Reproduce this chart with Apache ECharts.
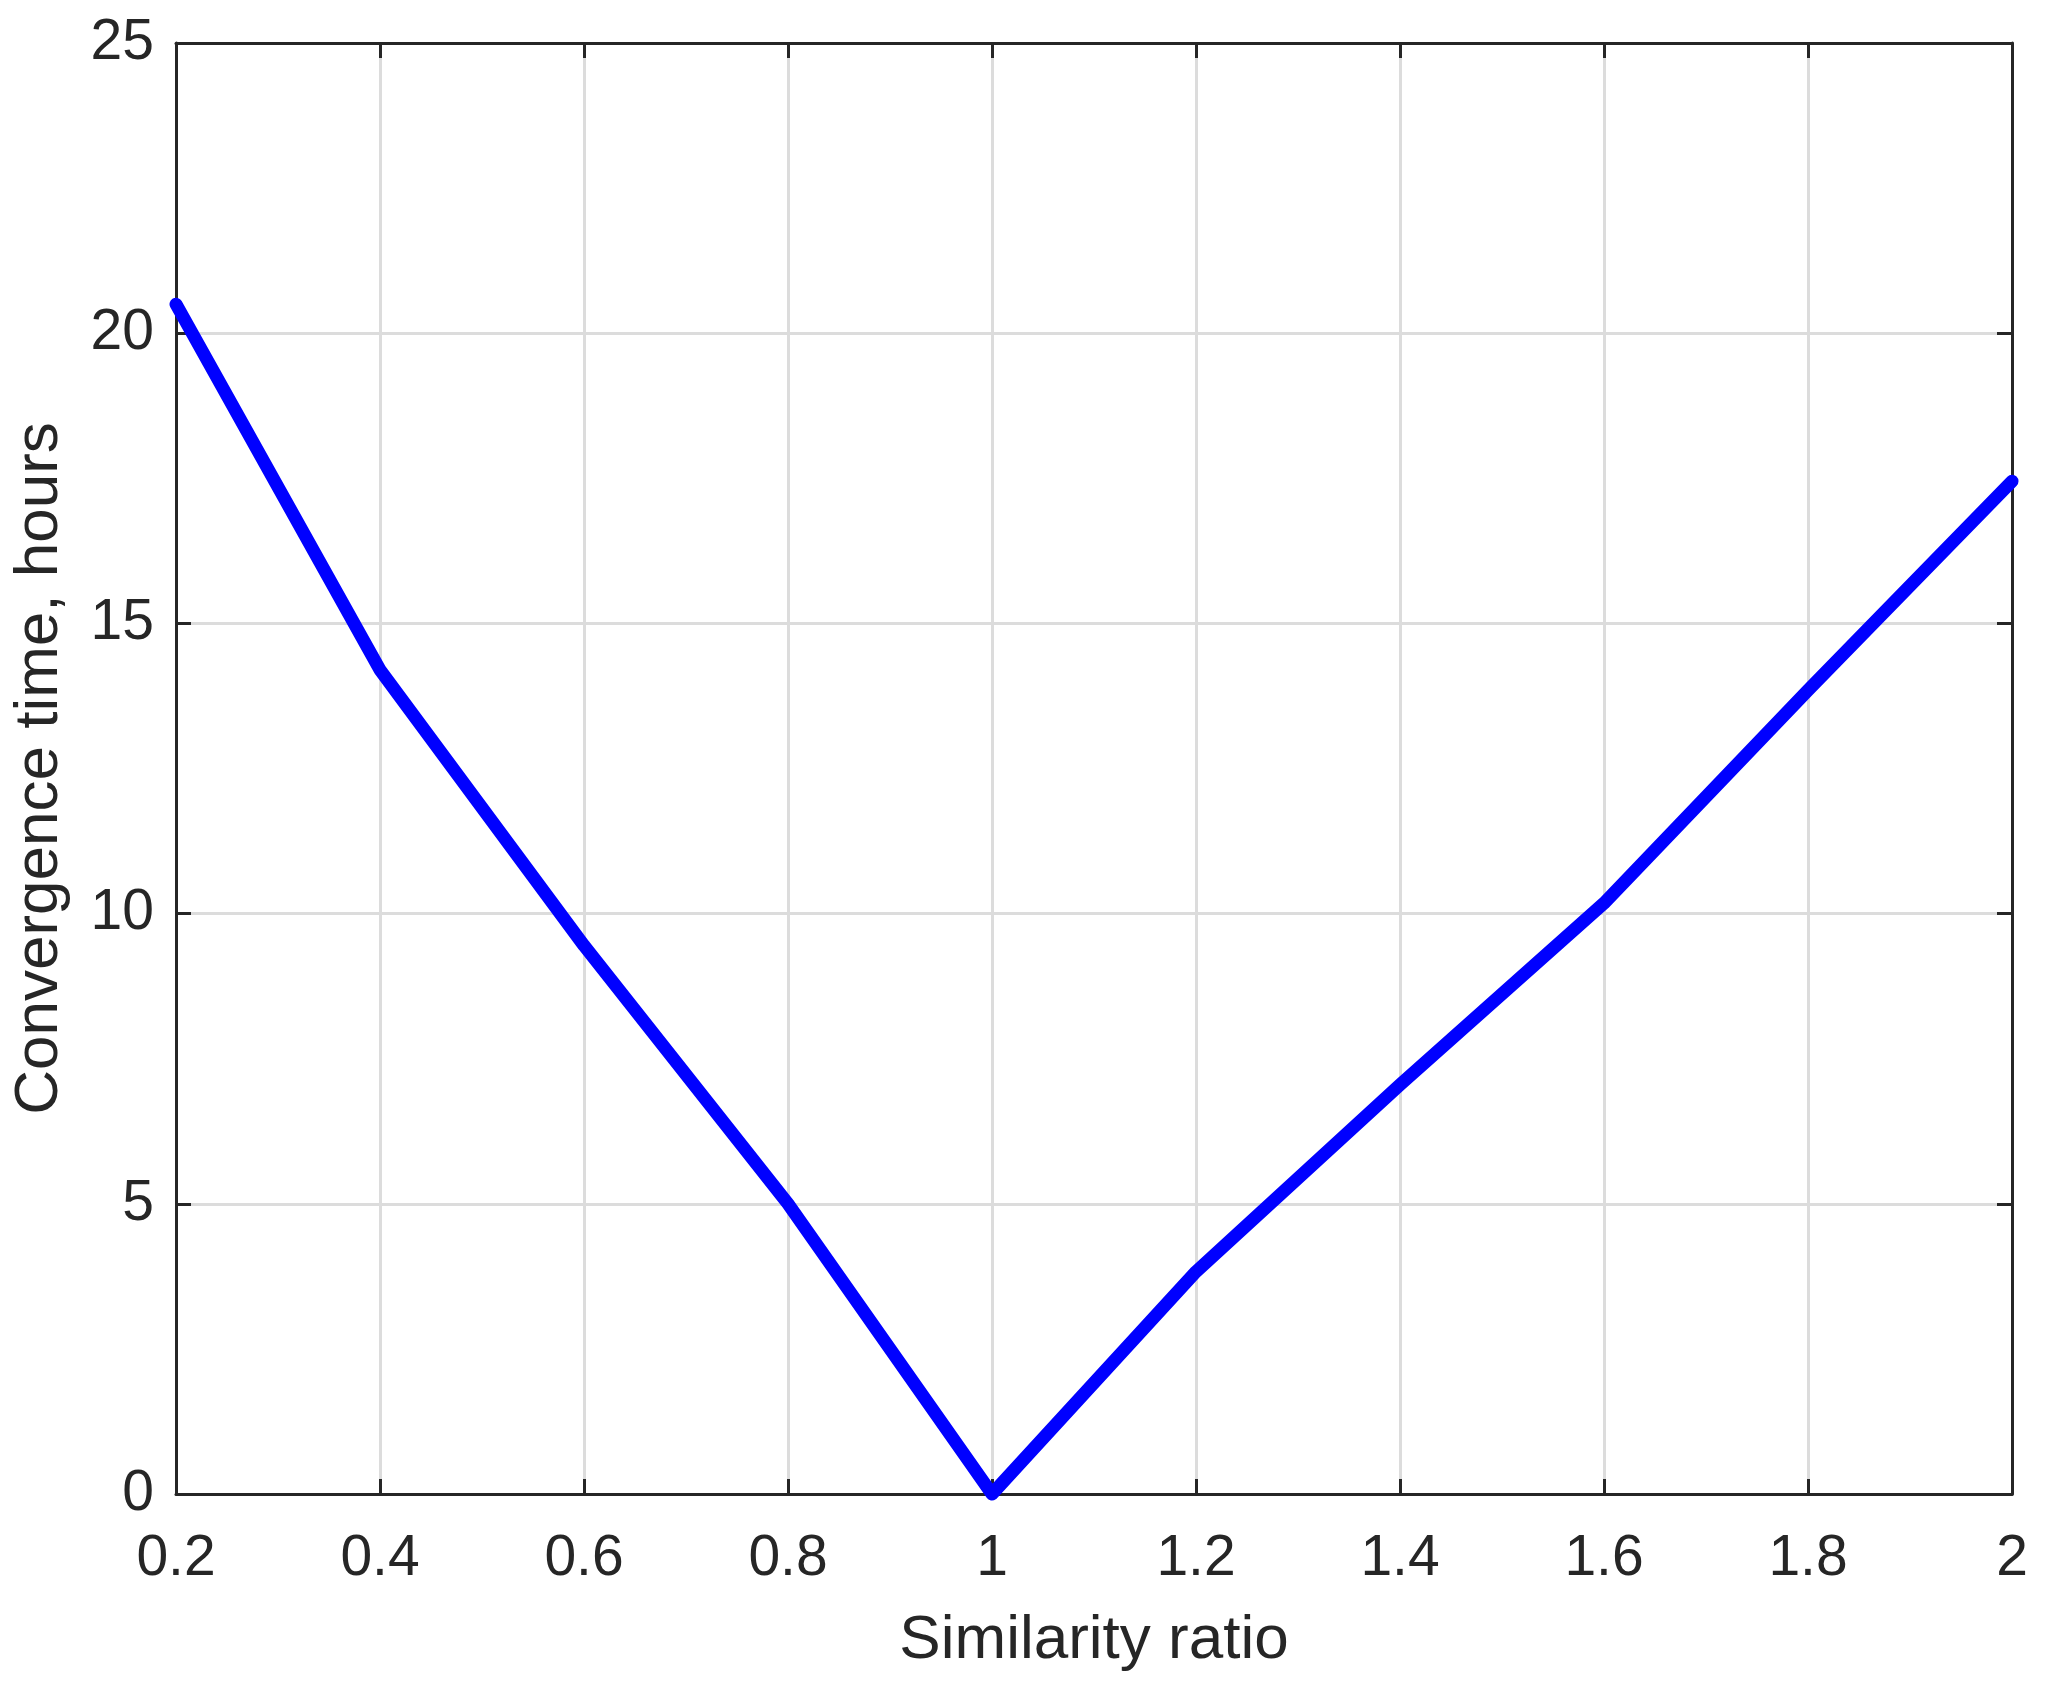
<!DOCTYPE html>
<html>
<head>
<meta charset="utf-8">
<script src="https://cdn.jsdelivr.net/npm/echarts@6/dist/echarts.min.js"></script>
<style>
html,body{margin:0;padding:0;background:#fff;}
#chart{width:2049px;height:1695px;}
</style>
</head>
<body>
<div id="chart"></div>
<script>
const similarityRatio = [0.2, 0.4, 0.6, 0.8, 1.0, 1.2, 1.4, 1.6, 1.8, 2.0];
const convergenceHours = [20.5, 14.2, 9.45, 5.0, 0, 3.83, 7.05, 10.18, 13.85, 17.45];
const xTitle = 'Similarity ratio';
const yTitle = 'Convergence time, hours';

const FONT = '"Liberation Sans", Arial, sans-serif';
const TXT = '#262626';
const AX = '#262626';
const GRID = '#dcdcdc';

const chart = echarts.init(document.getElementById('chart'), null, {renderer: 'canvas'});

const fmtX = v => String(+(+v).toFixed(1));

chart.setOption({
  backgroundColor: '#ffffff',
  animation: false,
  grid: {left: 176, top: 43, right: 37, bottom: 201, containLabel: false, outerBoundsMode: 'none'},
  xAxis: [
    {
      type: 'value', position: 'bottom', min: 0.2, max: 2, interval: 0.2,
      name: xTitle, nameLocation: 'middle', nameGap: 116,
      nameTextStyle: {fontFamily: FONT, fontSize: 62, color: TXT},
      axisLine: {show: true, onZero: false, lineStyle: {color: AX, width: 3}},
      axisTick: {show: true, inside: true, length: 15, lineStyle: {color: AX, width: 3}},
      axisLabel: {fontFamily: FONT, fontSize: 57, color: TXT, margin: 37, formatter: fmtX},
      splitLine: {show: true, lineStyle: {color: GRID, width: 3}}
    },
    {
      type: 'value', position: 'top', min: 0.2, max: 2, interval: 0.2,
      axisLine: {show: true, onZero: false, lineStyle: {color: AX, width: 3}},
      axisTick: {show: true, inside: true, length: 15, lineStyle: {color: AX, width: 3}},
      axisLabel: {show: false},
      splitLine: {show: false}
    }
  ],
  yAxis: [
    {
      type: 'value', position: 'left', min: 0, max: 25, interval: 5,
      name: yTitle, nameLocation: 'middle', nameGap: 105,
      nameTextStyle: {fontFamily: FONT, fontSize: 62, color: TXT},
      axisLine: {show: true, onZero: false, lineStyle: {color: AX, width: 3}},
      axisTick: {show: true, inside: true, length: 15, lineStyle: {color: AX, width: 3}},
      axisLabel: {fontFamily: FONT, fontSize: 57, color: TXT, margin: 22, padding: [14, 0, 0, 0]},
      splitLine: {show: true, lineStyle: {color: GRID, width: 3}}
    },
    {
      type: 'value', position: 'right', min: 0, max: 25, interval: 5,
      axisLine: {show: true, onZero: false, lineStyle: {color: AX, width: 3}},
      axisTick: {show: true, inside: true, length: 15, lineStyle: {color: AX, width: 3}},
      axisLabel: {show: false},
      splitLine: {show: false}
    }
  ],
  series: [
    {
      type: 'line',
      xAxisIndex: 0, yAxisIndex: 0,
      data: similarityRatio.map((x, i) => [x, convergenceHours[i]]),
      showSymbol: false,
      symbol: 'none',
      lineStyle: {color: '#0000ff', width: 13, join: 'round', cap: 'round'},
      clip: false,
      z: 5
    }
  ]
});
</script>
</body>
</html>
